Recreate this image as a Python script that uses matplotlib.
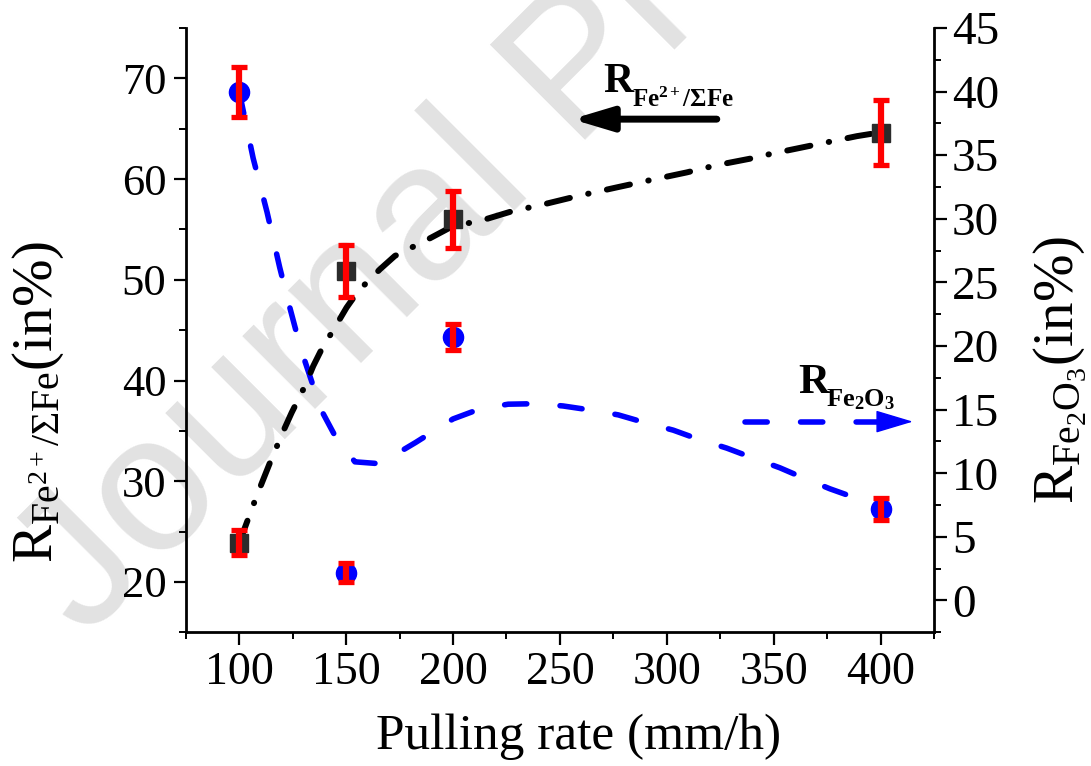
import matplotlib
matplotlib.use('Agg')
import matplotlib.pyplot as plt
from matplotlib.ticker import MultipleLocator, FixedLocator

plt.rcParams['font.family'] = ['Liberation Serif', 'DejaVu Serif']
plt.rcParams['mathtext.fontset'] = 'custom'
plt.rcParams['mathtext.rm'] = 'Liberation Serif'
plt.rcParams['mathtext.it'] = 'Liberation Serif:italic'
plt.rcParams['mathtext.bf'] = 'Liberation Serif:bold'
plt.rcParams['mathtext.default'] = 'regular'
plt.rcParams['lines.scale_dashes'] = False

# ---------------- data ----------------
rates = [100, 150, 200, 400]
fe2_ratio = [23.88, 50.87, 56.01, 64.6]          # left axis, black squares
fe2_err = [1.25, 2.55, 2.85, 3.23]
fe2o3_ratio = [40.0, 2.17, 20.7, 7.19]            # right axis, blue circles
fe2o3_err = [1.96, 0.75, 1.0, 0.9]

fe2_curve_x = [100, 108.1, 114.4, 120.6, 124.5, 130.7, 134.6, 138.5, 145.6, 150.2,
               155.7, 165.8, 172.8, 188.4, 200.1, 212.6, 226.6, 244.5, 258.6, 276.5,
               290.6, 309.3, 323.3, 342.0, 348.2, 388.9, 399.7]
fe2_curve_y = [23.88, 28.51, 31.86, 34.97, 36.8, 39.44, 41.43, 43.09, 45.58, 47.24,
               48.89, 51.04, 52.37, 54.03, 55.35, 55.84, 56.74, 57.6, 58.33, 59.17,
               59.82, 60.66, 61.38, 62.15, 62.48, 64.26, 64.63]

fe2o3_curve_x = [100, 106.5, 113.0, 118.9, 123.7, 126.8, 130.7, 134.6, 139.3, 144.8,
                 154.1, 165.8, 182.5, 200.0, 212.6, 225.8, 239.1, 251.5, 264.8, 277.3,
                 289.8, 303.0, 314.7, 328.0, 339.7, 352.9, 363.7, 376.3, 388.0, 400.0]
fe2o3_curve_y = [40.0, 34.77, 30.53, 26.2, 23.0, 21.04, 18.82, 16.86, 14.67, 12.94,
                 10.9, 10.75, 12.42, 14.27, 15.06, 15.43, 15.47, 15.29, 14.96, 14.59,
                 13.98, 13.39, 12.68, 11.98, 11.24, 10.43, 9.65, 8.78, 8.08, 7.19]

x_ticks = [100, 150, 200, 250, 300, 350, 400]
left_ticks = [20, 30, 40, 50, 60, 70]
right_ticks = [0, 5, 10, 15, 20, 25, 30, 35, 40, 45]

# annotation anchors (data coordinates)
fe2_arrow_tail = (323.4, 65.95)
fe2_arrow_tip = (255.6, 65.95)
fe2_R_pos = (270.2, 68.6)
fe2_sub_pos = (283.7, 67.15)
fe2o3_arrow_start = (336.4, 14.06)
fe2o3_arrow_head = (400.6, 14.06)
fe2o3_arrow_tip = (415.1, 14.06)
fe2o3_R_pos = (361.3, 16.31)
fe2o3_sub_pos = (374.4, 15.29)

# ---------------- figure ----------------
W, H = 1091, 766
fig = plt.figure(figsize=(W / 100, H / 100), dpi=100)
ax = fig.add_axes([185.8 / W, 1 - 632.3 / H, 748.2 / W, 604.3 / H])
ax2 = ax.twinx()
ax.set_zorder(2)
ax2.set_zorder(1)
ax.patch.set_alpha(0)
ax2.patch.set_alpha(0)

# watermark
fig.text(85 / W, 1 - 640 / H, 'Journal Pre-proof', rotation=45, rotation_mode='anchor',
         ha='left', va='baseline', fontsize=140, color='#e2e2e2',
         family='Liberation Sans', zorder=-10)

# black series (left axis)
ax.plot(fe2_curve_x, fe2_curve_y, color='black', lw=4.3,
        linestyle=(0, (17, 13.5, 0.3, 13.5)), dash_capstyle='round', zorder=2)
ax.plot(rates, fe2_ratio, 's', color='#2b2b2b', ms=12.5, zorder=3)
ax.errorbar(rates, fe2_ratio, yerr=fe2_err, fmt='none', ecolor='red',
            elinewidth=4.5, capsize=6, capthick=3.8, zorder=4)

# blue series (right axis)
ax2.plot(fe2o3_curve_x, fe2o3_curve_y, color=(0, 0, 1), lw=4.0,
         linestyle=(0, (16, 24)), dash_capstyle='round', zorder=2)
ax2.plot(rates, fe2o3_ratio, 'o', color=(0, 0, 1), ms=14.5, zorder=3)
ax2.errorbar(rates, fe2o3_ratio, yerr=fe2o3_err, fmt='none', ecolor='red',
             elinewidth=4.5, capsize=6, capthick=3.8, zorder=4)

# arrows and labels
ax.annotate('', xy=fe2_arrow_tip, xytext=fe2_arrow_tail,
            arrowprops=dict(arrowstyle='-|>,head_length=0.8,head_width=0.24',
                            color='black', lw=5, mutation_scale=30,
                            shrinkA=0, shrinkB=0, capstyle='round'))
ax.text(*fe2_R_pos, 'R', ha='left', va='baseline', fontsize=30,
        fontweight='bold', color='black')
ax.text(*fe2_sub_pos, r'$\mathbf{Fe}^{\mathbf{2+}}\mathbf{/\Sigma Fe}$',
        ha='left', va='baseline', fontsize=18, color='black')

ax2.plot([fe2o3_arrow_start[0], fe2o3_arrow_head[0]],
         [fe2o3_arrow_start[1], fe2o3_arrow_head[1]], color=(0, 0, 1), lw=4.0,
         linestyle=(0, (16, 24)), dash_capstyle='round')
ax2.annotate('', xy=fe2o3_arrow_tip, xytext=fe2o3_arrow_head,
             arrowprops=dict(arrowstyle='-|>,head_length=0.8,head_width=0.24',
                             color=(0, 0, 1), lw=1, mutation_scale=30,
                             shrinkA=0, shrinkB=0))
ax2.text(*fe2o3_R_pos, 'R', ha='left', va='baseline', fontsize=31,
         fontweight='bold', color='black')
ax2.text(*fe2o3_sub_pos, r'$\mathbf{Fe_2O_3}$', ha='left', va='baseline',
         fontsize=19, color='black')

# axes limits / ticks
ax.set_xlim(75, 425)
ax.set_ylim(15, 75)
ax2.set_ylim(-2.5, 45)
ax.xaxis.set_major_locator(FixedLocator(x_ticks))
ax.xaxis.set_minor_locator(MultipleLocator(25))
ax.yaxis.set_major_locator(FixedLocator(left_ticks))
ax.yaxis.set_minor_locator(MultipleLocator(5))
ax2.yaxis.set_major_locator(FixedLocator(right_ticks))
ax2.yaxis.set_minor_locator(MultipleLocator(2.5))

for a in (ax, ax2):
    a.spines['top'].set_visible(False)
    for s in a.spines.values():
        s.set_linewidth(2.0)
ax.spines['right'].set_visible(False)
ax2.spines['left'].set_visible(False)
ax2.spines['bottom'].set_visible(False)

ax.tick_params(axis='both', which='major', direction='out', length=9, width=1.6,
               pad=5)
ax.tick_params(axis='both', which='minor', direction='out', length=5, width=1.4)
ax.tick_params(axis='x', labelsize=33)
ax.tick_params(axis='y', labelsize=32)
ax2.tick_params(axis='y', which='major', direction='out', length=9, width=1.6,
                pad=4, labelsize=34)
ax2.tick_params(axis='y', which='minor', direction='out', length=5, width=1.4)

ax.set_xlabel('Pulling rate (mm/h)', fontsize=37)
ax.set_ylabel(r'$\mathrm{R}_{\mathrm{Fe}^{2+}/\Sigma\mathrm{Fe}}$(in%)', fontsize=41)
ax2.set_ylabel(r'$\mathrm{R}_{\mathrm{Fe}_2\mathrm{O}_3}$(in%)', fontsize=41)
ax.xaxis.set_label_coords(0.525, -0.135)
ax.yaxis.set_label_coords(-0.16, 0.381)
ax2.yaxis.set_label_coords(1.13, 0.435)

fig.savefig('out.png', dpi=100)
